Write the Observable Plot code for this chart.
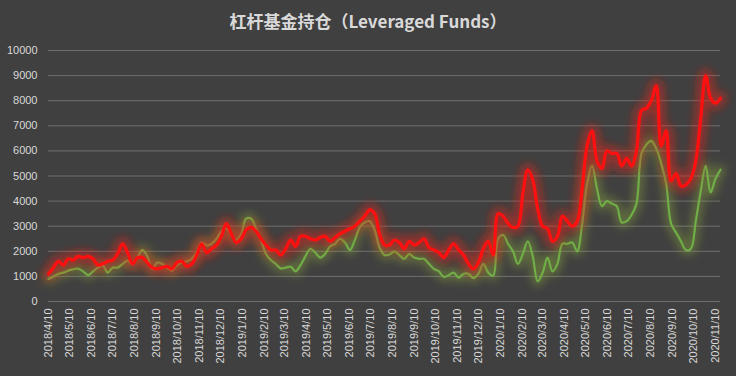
<!DOCTYPE html>
<html><head><meta charset="utf-8">
<script src="https://cdn.jsdelivr.net/npm/d3@7"></script>
<script src="https://cdn.jsdelivr.net/npm/@observablehq/plot@0.6"></script>
<style>
html,body{margin:0;padding:0;background:#404040;}
#chart{width:736px;height:376px;background:#404040;overflow:hidden;}
#title{height:40px;line-height:42px;text-align:center;color:#d9d9d9;font-size:17px;font-weight:bold;font-family:"Noto Sans CJK SC",sans-serif;}
</style></head><body><div id="chart"><div id="title">杠杆基金持仓（Leveraged Funds）</div></div>
<script>
// weekly report dates (Tuesdays) from 2018/4/10 to 2020/11/17
const startDate = "2018-04-10";
const endDate = "2020-11-17";
// red series (upper line)
const redValues = [1100,1350,1600,1450,1700,1650,1800,1750,1800,1700,1450,1500,1600,1650,1900,2300,1950,1500,1750,1750,1550,1350,1300,
1350,1400,1300,1550,1600,1400,1500,1850,2300,1950,2100,2250,2600,3100,2700,2350,2500,2850,2950,2800,2500,2250,2050,2050,
1850,2100,2450,2200,2600,2600,2500,2450,2550,2600,2400,2550,2700,2800,2900,3000,3200,3400,3650,3500,2700,2250,2250,2450,
2350,2100,2400,2250,2350,2500,2150,2050,1950,1750,2050,2300,2050,1850,1500,1300,1550,2100,2400,1850,3500,3400,3100,2950,
3000,4300,5250,4850,3700,3000,2900,2400,2600,3400,3200,3000,3200,4500,6200,6800,5600,5300,6000,5900,5900,
5400,5700,5400,6000,7600,7700,8000,8600,6200,6800,4800,5100,4600,4650,4900,5600,7300,9000,8100,7900,8100];
// green series (lower line)
const greenValues = [900,1000,1100,1150,1230,1280,1310,1200,1050,1200,1350,1430,1150,1350,1350,1500,1630,1500,1750,2050,1800,1300,1550,
1500,1350,1230,1450,1550,1600,1700,1950,2350,2230,2300,2500,2800,2900,2650,2450,2700,3300,3300,2900,2450,1900,1650,1500,
1320,1350,1390,1200,1450,1800,2100,1950,1750,1900,2200,2300,2500,2350,2050,2450,2950,3150,3200,2850,2150,1850,1870,2000,
1850,1700,1900,1750,1700,1700,1500,1300,1200,980,1050,1150,950,1100,1100,930,1100,1500,1150,1030,2500,2650,2300,2000,
1500,1900,2400,1800,800,1150,1750,1200,1500,2300,2300,2350,2000,3100,4700,5400,4500,3800,4000,3900,3800,
3150,3200,3450,3900,5900,6250,6400,6100,5500,4700,3100,2750,2400,2050,2100,3200,4400,5400,4350,4900,5250];
// x tick labels
const xTickLabels = ["2018/4/10","2018/5/10","2018/6/10","2018/7/10","2018/8/10","2018/9/10","2018/10/10","2018/11/10","2018/12/10",
"2019/1/10","2019/2/10","2019/3/10","2019/4/10","2019/5/10","2019/6/10","2019/7/10","2019/8/10","2019/9/10","2019/10/10","2019/11/10","2019/12/10",
"2020/1/10","2020/2/10","2020/3/10","2020/4/10","2020/5/10","2020/6/10","2020/7/10","2020/8/10","2020/9/10","2020/10/10","2020/11/10"];
// y tick values
const yTicks = [0,1000,2000,3000,4000,5000,6000,7000,8000,9000,10000];

const parse = d3.utcParse("%Y/%m/%d");
const dates = d3.utcTuesday.range(new Date(startDate), d3.utcDay.offset(new Date(endDate), 1));
const data = dates.map((d, i) => ({date: d, red: redValues[i], green: greenValues[i]}));
const tickDates = xTickLabels.map(parse);
const fmt = d3.utcFormat("%Y/%-m/%-d");

const svg = Plot.plot({
  width: 736,
  height: 336,
  marginTop: 10,
  marginBottom: 75,
  marginLeft: 48,
  marginRight: 16,
  style: {background: "transparent", color: "#d9d9d9", fontSize: "11px", fontFamily: "'Liberation Sans', Arial, sans-serif"},
  x: {type: "utc", domain: [dates[0], dates[dates.length - 1]]},
  y: {domain: [0, 10000]},
  marks: [
    Plot.gridY(yTicks, {stroke: "#6e6e6e", strokeOpacity: 1}),
    Plot.axisY(yTicks, {tickSize: 0, tickPadding: 11, label: null, fill: "#d9d9d9", tickFormat: d => String(d)}),
    Plot.axisX(tickDates, {tickSize: 0, tickPadding: 7, tickRotate: -90, tickFormat: fmt, label: null, fill: "#d9d9d9"}),
    Plot.lineY(data, {x: "date", y: "green", stroke: "#8fae3a", strokeWidth: 10, strokeOpacity: 0.4, curve: "catmull-rom", ariaDescription: "glow"}),
    Plot.lineY(data, {x: "date", y: "green", stroke: "#70ad47", strokeWidth: 2.2, curve: "catmull-rom"}),
    Plot.lineY(data, {x: "date", y: "red", stroke: "#e8201a", strokeWidth: 13, strokeOpacity: 0.5, curve: "catmull-rom", ariaDescription: "glow"}),
    Plot.lineY(data, {x: "date", y: "red", stroke: "#ff1010", strokeWidth: 3.2, curve: "catmull-rom"})
  ]
});
const ns = "http://www.w3.org/2000/svg";
const defs = document.createElementNS(ns, "defs");
defs.innerHTML = '<filter id="softglow" x="-10%" y="-30%" width="120%" height="160%"><feGaussianBlur stdDeviation="4"/></filter>';
svg.insertBefore(defs, svg.firstChild);
svg.querySelectorAll('g[aria-description="glow"]').forEach(g => g.setAttribute("filter", "url(#softglow)"));
document.getElementById("chart").appendChild(svg);
</script>
</body></html>
